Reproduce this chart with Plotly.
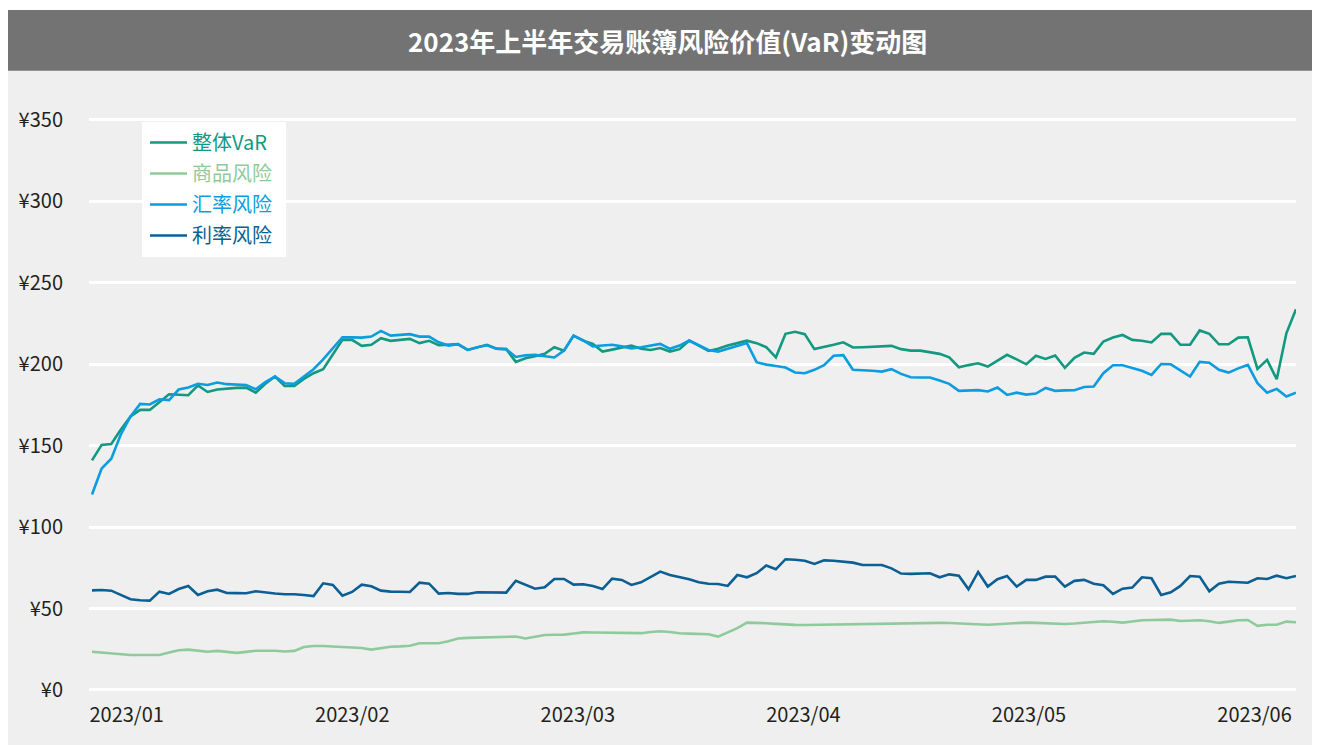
import plotly.graph_objects as go

# ---------------- data ----------------
series_names = ["整体VaR", "商品风险", "汇率风险", "利率风险"]
month_labels = ["2023/01", "2023/02", "2023/03", "2023/04", "2023/05", "2023/06"]

total_var = [
    141, 150.5, 151, 160, 168, 172, 172, 177, 181.6, 181.3,
    181, 187, 183, 184.5, 185.2, 185.5, 185.7, 182.6, 188, 192.5,
    186.7, 186.7, 191, 194.5, 197, 206, 215, 215, 211.3, 212,
    216, 214.4, 215, 215.6, 213, 214.4, 211.7, 212, 212.4, 208.8,
    210.5, 212, 209.6, 209.3, 201.5, 203.7, 205, 206.4, 210.5, 208.4,
    217.6, 214.5, 212.5, 207.8, 209, 210.3, 211.5, 209.5, 208.8, 210,
    207.8, 209.3, 214.6, 211.5, 208.2, 209.5, 211.5, 213, 214.5, 213,
    210.5, 204.3, 218.7, 220, 218.5, 209.3, 210.5, 212, 213.5, 210.3,
    210.5, 210.8, 211, 211.3, 209.3, 208.4, 208.4, 207.5, 206.4, 204.3,
    198.2, 199.5, 200.6, 198.6, 202, 205.8, 203, 200, 205.2, 203.3,
    205.4, 197.8, 204, 207.2, 206.4, 214, 216.4, 218, 215, 214.5,
    213.4, 218.7, 218.7, 212, 212, 220.8, 218.7, 212.3, 212.3, 216.4,
    216.6, 197.2, 202.7, 190.8, 219, 233.8,
]

commodity = [
    23.5, 23.0, 22.9, 22.2, 21.5, 21.5, 21.5, 21.5, 23.0, 24.4,
    24.8, 24.3, 23.5, 24.0, 23.6, 22.8, 23.4, 24.1, 24.1, 24.1,
    23.6, 24.0, 26.4, 27.0, 27.0, 26.6, 26.2, 26.0, 25.8, 24.8,
    25.5, 26.6, 26.8, 27.2, 28.7, 28.6, 28.7, 30.0, 31.6, 32.0,
    32.2, 32.3, 32.4, 32.6, 32.8, 31.6, 32.5, 33.8, 33.9, 34.0,
    34.7, 35.4, 35.3, 35.2, 35.3, 35.4, 35.2, 34.9, 35.6, 36.1,
    35.6, 34.8, 34.6, 34.4, 34.2, 32.8, 35.6, 38.0, 41.4, 41.3,
    41.0, 40.6, 40.2, 40.0, 39.9, 40.0, 40.3, 40.5, 40.2, 40.3,
    40.8, 40.5, 40.6, 40.8, 41.0, 41.1, 41.3, 41.3, 41.2, 41.1,
    40.9, 40.7, 40.4, 40.1, 40.4, 40.8, 41.1, 41.4, 41.2, 40.9,
    40.7, 40.5, 40.8, 41.3, 42.0, 42.2, 41.9, 41.4, 42.1, 42.8,
    43.0, 43.1, 43.2, 42.4, 42.6, 42.8, 42.2, 41.2, 42.0, 42.8,
    43.0, 39.4, 40.1, 40.1, 42.0, 41.6,
]

fx_risk = [
    120, 136, 142, 157, 168, 175.7, 175.3, 178.5, 178, 184.5,
    185.7, 188, 187.3, 188.8, 187.8, 187.5, 187.3, 184.7, 189, 192.5,
    188.4, 188, 192.5, 197, 203, 210, 216.6, 216.5, 216.4, 217,
    220.5, 217.6, 218, 218.5, 217, 217, 213.5, 211.5, 212.3, 208.8,
    210.5, 211.7, 209.5, 209.3, 204.5, 205.5, 205.8, 205.2, 204.2, 208.4,
    217.6, 214.6, 211, 211.5, 212, 211, 209.8, 210.5, 211.5, 212.5,
    209.5, 211.5, 214.6, 211.5, 208.8, 207.8, 209.5, 211.5, 213, 201.3,
    199.8, 199, 198, 195, 194.5, 196.6, 199.5, 205.2, 205.6, 196.6,
    196.4, 196, 195.5, 197, 194.1, 192, 191.9, 191.9, 190, 188,
    183.7, 184, 184.1, 183.3, 185.7, 181.2, 182.6, 181.4, 182, 185.5,
    183.7, 184, 184.1, 186.1, 186.3, 194.5, 199.4, 199.4, 197.5, 196,
    193.5, 200.2, 200, 196, 192.5, 201.5, 201, 196.6, 194.9, 197.5,
    199.6, 188.4, 182.6, 184.9, 180.2, 182.6,
]

rate_risk = [
    61.2, 61.4, 61.0, 58.1, 55.7, 55.1, 54.9, 60.4, 59.0, 62.0,
    63.9, 58.4, 60.6, 61.6, 59.6, 59.5, 59.4, 60.6, 59.8, 59.3,
    58.8, 58.8, 58.3, 57.7, 65.5, 64.5, 57.9, 60.2, 64.7, 63.7,
    61.0, 60.4, 60.3, 60.2, 65.9, 65.3, 59.2, 59.6, 59.0, 59.0,
    60.0, 59.9, 59.8, 59.8, 67.1, 64.5, 62.2, 63.1, 68.2, 68.2,
    64.7, 64.9, 63.9, 62.0, 68.4, 67.6, 64.5, 66.1, 69.4, 72.7,
    70.6, 69.5, 68.0, 66.1, 65.2, 65.1, 63.9, 70.6, 69.2, 71.7,
    76.4, 74.1, 80.3, 80.0, 79.4, 77.4, 79.6, 79.4, 78.6, 78.2,
    76.8, 76.8, 76.8, 74.7, 71.5, 71.3, 71.5, 71.7, 69.2, 71.0,
    70.2, 61.8, 72.5, 63.5, 68.0, 70.0, 63.5, 67.6, 67.6, 69.6,
    69.6, 63.5, 67.0, 67.6, 65.3, 64.3, 59.0, 62.2, 62.9, 69.2,
    68.6, 58.4, 60.0, 63.9, 70.0, 69.6, 60.6, 65.3, 66.5, 66.2,
    65.9, 68.6, 68.2, 70.2, 68.6, 70.0,
]

y_ticks = [0, 50, 100, 150, 200, 250, 300, 350]

# ---------------- geometry helpers ----------------
# the html page adds an 8px body margin, so the figure is drawn 8px in
OFF = 8
W, H = 1320 - OFF, 745 - OFF


def fx(px):
    return (px - OFF) / W


def fy(py):
    return 1 - (py - OFF) / H


colors = ["#12997f", "#8fca9a", "#0b9ddf", "#0b5f93"]
all_series = [total_var, commodity, fx_risk, rate_risk]
n = len(total_var)
x_idx = list(range(n))

fig = go.Figure()
for k, (name, vals, col) in enumerate(zip(series_names, all_series, colors)):
    fig.add_trace(go.Scatter(
        x=x_idx, y=vals, mode="lines",
        name=f'<span style="color:{col}">{name}</span>',
        legendgroup=f"g{k}",
        line=dict(color=col, width=2.6),
        hoverinfo="skip",
    ))

px_left, px_right = 89, 1296
first_px, step_px = 92, (1296 - 92) / (n - 1)
x_range = [(px_left - first_px) / step_px, (px_right - first_px) / step_px]
y0_px, y350_px = 690, 120
ppu = (y0_px - y350_px) / 350
y_range = [-5, 355]
top_px = y350_px - (y_range[1] - 350) * ppu
bot_px = y0_px + (0 - y_range[0]) * ppu

tick_pos = [3.6 + 23.42 * k for k in range(len(month_labels))]

font_family = "Noto Sans CJK SC, Noto Sans, sans-serif"

fig.update_layout(
    width=W, height=H,
    margin=dict(l=0, r=0, t=0, b=0),
    paper_bgcolor="white",
    plot_bgcolor="#efefef",
    font=dict(family=font_family, color="#231f20", size=20),
    showlegend=True,
    legend=dict(
        x=fx(145), y=fy(123), xanchor="left", yanchor="top",
        bgcolor="rgba(0,0,0,0)", borderwidth=0,
        font=dict(size=20, family=font_family),
        traceorder="grouped",
        tracegroupgap=2,
        itemwidth=37,
    ),
    xaxis=dict(
        domain=[fx(px_left), fx(px_right)],
        range=x_range,
        showgrid=False, zeroline=False, showline=False,
        tickmode="array", tickvals=tick_pos, ticktext=month_labels,
        ticks="", ticklabelstandoff=3,
        tickfont=dict(size=20, color="#231f20"),
        automargin=False, fixedrange=True,
    ),
    yaxis=dict(
        domain=[fy(bot_px), fy(top_px)],
        range=y_range,
        tickmode="array", tickvals=y_ticks,
        ticktext=[f"¥{v}" for v in y_ticks],
        showgrid=True, gridcolor="white", gridwidth=3,
        zeroline=False, showline=False, ticks="",
        ticklabelstandoff=25,
        tickfont=dict(size=20, color="#231f20"),
        automargin=False, fixedrange=True,
    ),
)

# background panels
fig.add_shape(type="rect", xref="paper", yref="paper",
              x0=0, x1=1, y0=0, y1=fy(70.7),
              fillcolor="#efefef", line=dict(width=0), layer="below")
fig.add_shape(type="rect", xref="paper", yref="paper",
              x0=0, x1=1, y0=fy(70.7), y1=fy(10),
              fillcolor="#737373", line=dict(width=0), layer="below")
# white legend panel
fig.add_shape(type="rect", xref="paper", yref="paper",
              x0=fx(142), x1=fx(286), y0=fy(257), y1=fy(122),
              fillcolor="white", line=dict(width=0), layer="above")

fig.add_annotation(
    text="<b>2023年上半年交易账簿风险价值(VaR)变动图</b>",
    xref="paper", yref="paper", x=fx(667), y=fy(40.5),
    xanchor="center", yanchor="middle", showarrow=False,
    font=dict(size=26, color="white", family=font_family),
)

fig.write_html("out.html")
